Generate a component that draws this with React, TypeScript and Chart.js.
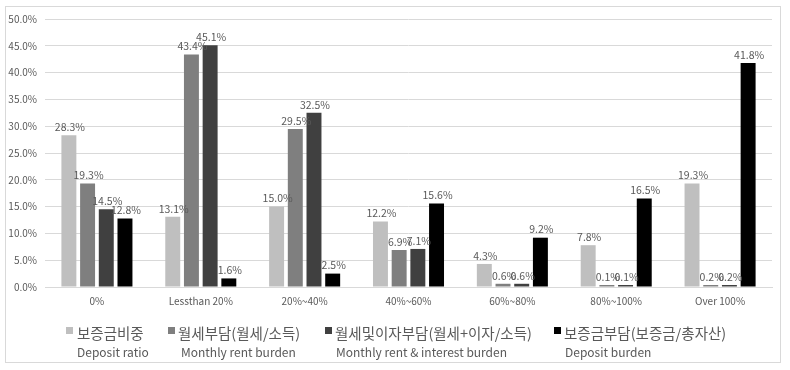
import React, { useEffect, useRef } from "react";
import { Chart, registerables } from "chart.js";

Chart.register(...registerables);

const categories = ["0%", "Lessthan 20%", "20%~40%", "40%~60%", "60%~80%", "80%~100%", "Over 100%"];
const depositRatio = [28.3, 13.1, 15.0, 12.2, 4.3, 7.8, 19.3];
const monthlyRentBurden = [19.3, 43.4, 29.5, 6.9, 0.6, 0.1, 0.2];
const rentInterestBurden = [14.5, 45.1, 32.5, 7.1, 0.6, 0.1, 0.2];
const depositBurden = [12.8, 1.6, 2.5, 15.6, 9.2, 16.5, 41.8];
const seriesKo = ["보증금비중", "월세부담(월세/소득)", "월세및이자부담(월세+이자/소득)", "보증금부담(보증금/총자산)"];
const seriesEn = ["Deposit ratio", "Monthly rent burden", "Monthly rent & interest burden", "Deposit burden"];
const colors = ["#bfbfbf", "#7f7f7f", "#404040", "#000000"];

const legendSq = [66, 168, 325, 554];
const legendKoX = [77, 178, 335, 564];
const legendEnX = [77, 181, 336, 565];

const FONT = "'Noto Sans CJK KR', 'Noto Sans', sans-serif";

const dataLabels = {
  id: "dataLabels",
  afterDatasetsDraw(chart: any) {
    const ctx = chart.ctx;
    ctx.save();
    ctx.font = `10.5px ${FONT}`;
    ctx.fillStyle = "#595959";
    ctx.textAlign = "center";
    ctx.textBaseline = "bottom";
    chart.data.datasets.forEach((ds: any, di: number) => {
      const meta = chart.getDatasetMeta(di);
      meta.data.forEach((el: any, i: number) => {
        const v = ds.data[i];
        ctx.fillText(v.toFixed(1) + "%", el.x + 1, el.y - 3);
      });
    });
    ctx.restore();
  },
};

export default function App() {
  const ref = useRef<HTMLCanvasElement>(null);
  useEffect(() => {
    const chart = new Chart(ref.current!, {
      type: "bar",
      data: {
        labels: categories,
        datasets: [depositRatio, monthlyRentBurden, rentInterestBurden, depositBurden].map((d, i) => ({
          label: seriesEn[i],
          data: d,
          backgroundColor: colors[i],
          categoryPercentage: 0.72,
          barPercentage: 0.8,
          minBarLength: 2,
        })),
      },
      options: {
        animation: false,
        responsive: false,
        devicePixelRatio: 1,
        layout: { padding: { left: 0, top: 19, right: 18, bottom: 0 } },
        plugins: { legend: { display: false }, tooltip: { enabled: false } },
        scales: {
          x: {
            grid: { display: false, drawTicks: false },
            border: { display: true, color: "#d9d9d9" },
            ticks: { color: "#595959", font: { family: FONT, size: 10 }, padding: 8, maxRotation: 0, autoSkip: false },
            afterFit: (s: any) => { s.height = 83; },
          },
          y: {
            min: 0,
            max: 50,
            grid: { color: "#d9d9d9", drawTicks: false },
            border: { display: false },
            ticks: {
              stepSize: 5,
              color: "#595959",
              font: { family: FONT, size: 10 },
              padding: 8,
              callback: (v: any) => Number(v).toFixed(1) + "%",
            },
            afterFit: (s: any) => { s.width = 45; },
          },
        },
      },
      plugins: [dataLabels],
    });
    return () => chart.destroy();
  }, []);

  return (
    <div style={{ position: "absolute", left: 0, top: 0, width: 790, height: 370, background: "#fff", overflow: "hidden" }}>
      <div style={{ position: "absolute", left: 5, top: 6, width: 774, height: 355, border: "1px solid #d9d9d9" }} />
      <canvas ref={ref} width={790} height={370} style={{ position: "absolute", left: 0, top: 0 }} />
      {seriesKo.map((t, i) => (
        <React.Fragment key={i}>
          <div style={{ position: "absolute", left: legendSq[i], top: 327, width: 7, height: 7, background: colors[i] }} />
          <div style={{ position: "absolute", left: legendKoX[i], top: 323, height: 20, lineHeight: "20px", fontFamily: FONT, fontSize: 14.5, color: "#595959", whiteSpace: "nowrap" }}>{t}</div>
          <div style={{ position: "absolute", left: legendEnX[i], top: 344, height: 16, lineHeight: "16px", fontFamily: FONT, fontSize: 12, color: "#595959", whiteSpace: "nowrap" }}>{seriesEn[i]}</div>
        </React.Fragment>
      ))}
    </div>
  );
}
